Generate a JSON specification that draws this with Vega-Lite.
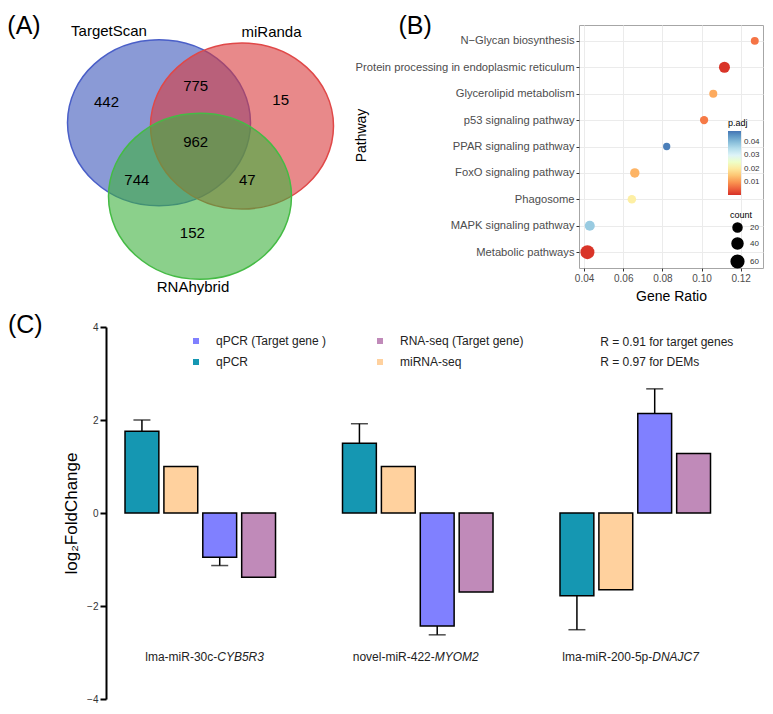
{
  "$schema": "https://vega.github.io/schema/vega-lite/v6.json",
  "background": "white",
  "padding": {"left": 7, "top": 13, "right": 0, "bottom": 0},
  "config": {"font": "Liberation Sans", "view": {"stroke": null}},
  "spacing": 9,
  "resolve": {"scale": {"color": "independent", "size": "independent", "x": "independent", "y": "independent"}, "legend": {"color": "independent", "size": "independent"}},
  "datasets": {
    "venn": [
      {"set": "TargetScan", "cx": 0.2275, "cy": 0.3556},
      {"set": "miRanda", "cx": 0.5837, "cy": 0.3673},
      {"set": "RNAhybrid", "cx": 0.4034, "cy": 0.6229}
    ],
    "vennLabels": [
      {"label": "442", "lx": 0.0021, "ly": 0.2789},
      {"label": "775", "lx": 0.385, "ly": 0.2218},
      {"label": "15", "lx": 0.7498, "ly": 0.2727},
      {"label": "962", "lx": 0.385, "ly": 0.4244},
      {"label": "744", "lx": 0.1322, "ly": 0.5636},
      {"label": "47", "lx": 0.6064, "ly": 0.5647},
      {"label": "152", "lx": 0.3704, "ly": 0.7575},
      {"label": "TargetScan", "lx": 0.0129, "ly": 0.0218},
      {"label": "miRanda", "lx": 0.7103, "ly": 0.0265},
      {"label": "RNAhybrid", "lx": 0.3734, "ly": 0.9516}
    ],
    "kegg": [
      {"pathway": "N−Glycan biosynthesis", "ratio": 0.1272, "padj": 0.007, "count": 11},
      {"pathway": "Protein processing in endoplasmic reticulum", "ratio": 0.1117, "padj": 0.0008, "count": 40},
      {"pathway": "Glycerolipid metabolism", "ratio": 0.106, "padj": 0.012, "count": 12},
      {"pathway": "p53 signaling pathway", "ratio": 0.1013, "padj": 0.0075, "count": 14},
      {"pathway": "PPAR signaling pathway", "ratio": 0.0822, "padj": 0.047, "count": 6},
      {"pathway": "FoxO signaling pathway", "ratio": 0.0659, "padj": 0.013, "count": 24},
      {"pathway": "Phagosome", "ratio": 0.0644, "padj": 0.021, "count": 16},
      {"pathway": "MAPK signaling pathway", "ratio": 0.0429, "padj": 0.038, "count": 30},
      {"pathway": "Metabolic pathways", "ratio": 0.0417, "padj": 0.0008, "count": 77}
    ],
    "fc": [
      {"group": "lma-miR-30c-CYB5R3", "series": "qPCR", "value": 1.76, "errEnd": 2.0},
      {"group": "lma-miR-30c-CYB5R3", "series": "miRNA-seq", "value": 1.0, "errEnd": null},
      {"group": "lma-miR-30c-CYB5R3", "series": "qPCR (Target gene )", "value": -0.95, "errEnd": -1.13},
      {"group": "lma-miR-30c-CYB5R3", "series": "RNA-seq (Target gene)", "value": -1.38, "errEnd": null},
      {"group": "novel-miR-422-MYOM2", "series": "qPCR", "value": 1.5, "errEnd": 1.92},
      {"group": "novel-miR-422-MYOM2", "series": "miRNA-seq", "value": 1.0, "errEnd": null},
      {"group": "novel-miR-422-MYOM2", "series": "qPCR (Target gene )", "value": -2.43, "errEnd": -2.62},
      {"group": "novel-miR-422-MYOM2", "series": "RNA-seq (Target gene)", "value": -1.7, "errEnd": null},
      {"group": "lma-miR-200-5p-DNAJC7", "series": "qPCR", "value": -1.78, "errEnd": -2.51},
      {"group": "lma-miR-200-5p-DNAJC7", "series": "miRNA-seq", "value": -1.65, "errEnd": null},
      {"group": "lma-miR-200-5p-DNAJC7", "series": "qPCR (Target gene )", "value": 2.14, "errEnd": 2.67},
      {"group": "lma-miR-200-5p-DNAJC7", "series": "RNA-seq (Target gene)", "value": 1.28, "errEnd": null}
    ],
    "groups": [
      {"group": "lma-miR-30c-CYB5R3", "prefix": "lma-miR-30c-", "gene": "CYB5R3"},
      {"group": "novel-miR-422-MYOM2", "prefix": "novel-miR-422-", "gene": "MYOM2"},
      {"group": "lma-miR-200-5p-DNAJC7", "prefix": "lma-miR-200-5p-", "gene": "DNAJC7"}
    ],
    "rtext": [
      {"label": "R = 0.91 for target genes", "y": 3.68},
      {"label": "R = 0.97 for DEMs", "y": 3.24}
    ]
  },
  "vconcat": [
    {
      "spacing": 14,
      "resolve": {"scale": {"color": "independent", "size": "independent", "x": "independent", "y": "independent"}, "legend": {"color": "independent", "size": "independent"}},
      "hconcat": [
        {
          "width": 233,
          "height": 275,
          "layer": [
            {
              "data": {"name": "venn"},
              "mark": {"type": "point", "shape": "M -1 0 A 1 0.907 0 1 1 1 0 A 1 0.907 0 1 1 -1 0 Z", "size": 33489, "filled": true, "fillOpacity": 0.6, "strokeOpacity": 1, "strokeWidth": 1.5},
              "encoding": {
                "x": {"field": "cx", "type": "quantitative", "scale": {"domain": [0, 1], "nice": false, "zero": false}, "axis": null},
                "y": {"field": "cy", "type": "quantitative", "scale": {"domain": [0, 1], "nice": false, "zero": false, "reverse": true}, "axis": null},
                "fill": {"field": "set", "type": "nominal", "scale": {"domain": ["TargetScan", "miRanda", "RNAhybrid"], "range": ["#3C57BB", "#D93A3C", "#3EB13E"]}, "legend": null},
                "stroke": {"field": "set", "type": "nominal", "scale": {"domain": ["TargetScan", "miRanda", "RNAhybrid"], "range": ["#4A5FC8", "#E04848", "#45BB45"]}, "legend": null}
              }
            },
            {
              "data": {"name": "vennLabels"},
              "mark": {"type": "text", "fontSize": 15, "color": "black", "baseline": "middle"},
              "encoding": {
                "x": {"field": "lx", "type": "quantitative"},
                "y": {"field": "ly", "type": "quantitative"},
                "text": {"field": "label"}
              }
            },
            {
              "data": {"values": [{"t": "(A)", "lx": -0.3519, "ly": 0.0036}]},
              "mark": {"type": "text", "fontSize": 25, "color": "black", "baseline": "middle"},
              "encoding": {
                "x": {"field": "lx", "type": "quantitative"},
                "y": {"field": "ly", "type": "quantitative"},
                "text": {"field": "t"}
              }
            }
          ]
        },
        {
          "width": 184,
          "height": 243,
          "view": {"stroke": "#A6A6A6"},
          "layer": [
            {
              "data": {"name": "kegg"},
              "mark": {"type": "circle", "opacity": 1},
              "encoding": {
                "x": {
                  "field": "ratio", "type": "quantitative",
                  "scale": {"domain": [0.0374, 0.1314], "nice": false, "zero": false},
                  "axis": {
                    "values": [0.04, 0.05, 0.06, 0.07, 0.08, 0.09, 0.1, 0.11, 0.12, 0.13],
                    "labelExpr": "round(datum.value*100) % 2 == 0 ? format(datum.value, '.2f') : ''",
                    "title": "Gene Ratio", "titleFontSize": 14, "titleFontWeight": "normal", "titleColor": "black", "titlePadding": 6,
                    "labelColor": "#4D4D4D", "labelFontSize": 10, "labelPadding": 2,
                    "domain": false, "tickSize": 3, "tickColor": "#333333",
                    "tickOpacity": {"condition": {"test": "round(datum.value*100) % 2 == 1", "value": 0}, "value": 1},
                    "grid": true, "gridColor": "#EBEBEB",
                    "gridWidth": {"condition": {"test": "round(datum.value*100) % 2 == 1", "value": 0.5}, "value": 1}
                  }
                },
                "y": {
                  "field": "pathway", "type": "nominal",
                  "scale": {"type": "point", "padding": 0.6, "domain": ["N−Glycan biosynthesis", "Protein processing in endoplasmic reticulum", "Glycerolipid metabolism", "p53 signaling pathway", "PPAR signaling pathway", "FoxO signaling pathway", "Phagosome", "MAPK signaling pathway", "Metabolic pathways"]},
                  "axis": {
                    "title": "Pathway", "titleFontSize": 14, "titleFontWeight": "normal", "titleColor": "black", "titleX": -211, "titleY": 110,
                    "labelFontSize": 11.2, "labelColor": "#4D4D4D", "labelPadding": 2, "labelLimit": 400,
                    "domain": false, "tickSize": 3, "tickColor": "#333333",
                    "grid": true, "gridColor": "#EBEBEB"
                  }
                },
                "color": {
                  "field": "padj", "type": "quantitative",
                  "scale": {"domain": [0.0005, 0.048], "range": ["#d73027", "#f46d43", "#fdae61", "#fee090", "#ffffbf", "#e0f3f8", "#abd9e9", "#74add1", "#4575b4"]},
                  "legend": {"title": "p.adj", "orient": "none", "legendX": 149, "legendY": 94, "direction": "vertical", "gradientLength": 64, "gradientThickness": 13, "values": [0.01, 0.02, 0.03, 0.04], "labelFontSize": 8, "labelColor": "#333333", "titleFontSize": 9, "titleFontWeight": "normal", "titleColor": "black", "titlePadding": 3, "labelOffset": 3, "padding": 0}
                },
                "size": {
                  "field": "count", "type": "quantitative",
                  "scale": {"domain": [0, 80], "range": [41, 201], "zero": false},
                  "legend": {"title": "count", "orient": "none", "legendX": 151, "legendY": 186, "values": [20, 40, 60], "symbolFillColor": "black", "symbolStrokeColor": "black", "symbolOpacity": 1, "labelFontSize": 8, "labelColor": "#333333", "labelOffset": 5, "titleFontSize": 9, "titleFontWeight": "normal", "titleColor": "black", "titlePadding": 2, "rowPadding": 0, "padding": 0}
                }
              }
            },
            {
              "data": {"values": [{"t": "(B)"}]},
              "mark": {"type": "text", "fontSize": 25, "color": "black", "baseline": "middle", "dy": -15},
              "encoding": {
                "x": {"datum": -0.0463, "type": "quantitative"},
                "y": {"datum": "N−Glycan biosynthesis", "type": "nominal"},
                "text": {"field": "t"}
              }
            }
          ]
        }
      ]
    },
    {
      "width": 644,
      "height": 372,
      "layer": [
        {
          "data": {"name": "fc"},
          "mark": {"type": "bar", "stroke": "black", "strokeWidth": 1.5},
          "encoding": {
            "x": {"field": "group", "type": "nominal", "scale": {"domain": ["lma-miR-30c-CYB5R3", "novel-miR-422-MYOM2", "lma-miR-200-5p-DNAJC7"], "paddingInner": 0.308, "paddingOuter": 0.1345, "align": 0.325}, "axis": null},
            "xOffset": {"field": "series", "type": "nominal", "scale": {"domain": ["qPCR", "miRNA-seq", "qPCR (Target gene )", "RNA-seq (Target gene)"], "paddingInner": 0.13, "paddingOuter": 0}},
            "y": {
              "field": "value", "type": "quantitative",
              "scale": {"domain": [-4, 4], "nice": false},
              "axis": {"values": [-4, -2, 0, 2, 4], "grid": false, "domainColor": "black", "domainWidth": 2, "tickColor": "black", "tickWidth": 2, "tickSize": 6, "labelFontSize": 10, "labelColor": "#333333", "labelPadding": 2, "title": "log₂FoldChange", "titleFontSize": 17, "titleFontWeight": "normal", "titleColor": "black", "titlePadding": 6}
            },
            "color": {
              "field": "series", "type": "nominal",
              "scale": {"domain": ["qPCR (Target gene )", "qPCR", "RNA-seq (Target gene)", "miRNA-seq"], "range": ["#8080FF", "#1597B2", "#C08AB9", "#FFD19E"]},
              "legend": {"title": null, "orient": "none", "legendX": 84, "legendY": 8, "columns": 2, "symbolType": "square", "symbolSize": 36, "symbolStrokeWidth": 0, "symbolStrokeColor": "transparent", "labelFontSize": 12, "labelColor": "#222222", "labelOffset": 14, "columnPadding": 47, "rowPadding": 9, "padding": 0}
            }
          }
        },
        {
          "data": {"name": "fc"},
          "transform": [{"filter": "isValid(datum.errEnd)"}],
          "mark": {"type": "rule", "color": "black", "strokeWidth": 1.5},
          "encoding": {
            "x": {"field": "group", "type": "nominal"},
            "xOffset": {"field": "series", "type": "nominal"},
            "y": {"field": "value", "type": "quantitative"},
            "y2": {"field": "errEnd"}
          }
        },
        {
          "data": {"name": "fc"},
          "transform": [{"filter": "isValid(datum.errEnd)"}],
          "mark": {"type": "tick", "color": "black", "thickness": 1.5, "size": 17, "orient": "horizontal"},
          "encoding": {
            "x": {"field": "group", "type": "nominal"},
            "xOffset": {"field": "series", "type": "nominal"},
            "y": {"field": "errEnd", "type": "quantitative"}
          }
        },
        {
          "mark": {"type": "rule", "color": "black", "strokeWidth": 2.5},
          "encoding": {"y": {"datum": 0, "type": "quantitative"}}
        },
        {
          "data": {"name": "groups"},
          "mark": {"type": "text", "align": "right", "baseline": "middle", "dx": 17, "fontSize": 12, "color": "#222222"},
          "encoding": {
            "x": {"field": "group", "type": "nominal"},
            "y": {"datum": -3.09, "type": "quantitative"},
            "text": {"field": "prefix"}
          }
        },
        {
          "data": {"name": "groups"},
          "mark": {"type": "text", "align": "left", "baseline": "middle", "dx": 17, "fontSize": 12, "fontStyle": "italic", "color": "#222222"},
          "encoding": {
            "x": {"field": "group", "type": "nominal"},
            "y": {"datum": -3.09, "type": "quantitative"},
            "text": {"field": "gene"}
          }
        },
        {
          "data": {"name": "rtext"},
          "mark": {"type": "text", "align": "left", "baseline": "middle", "dx": -35, "fontSize": 12, "color": "#222222"},
          "encoding": {
            "x": {"datum": "lma-miR-200-5p-DNAJC7", "type": "nominal"},
            "y": {"field": "y", "type": "quantitative"},
            "text": {"field": "label"}
          }
        },
        {
          "data": {"values": [{"t": "(C)"}]},
          "mark": {"type": "text", "align": "center", "baseline": "middle", "dx": -175, "dy": -2, "fontSize": 25, "color": "black"},
          "encoding": {
            "x": {"datum": "lma-miR-30c-CYB5R3", "type": "nominal"},
            "y": {"datum": 4, "type": "quantitative"},
            "text": {"field": "t"}
          }
        }
      ]
    }
  ]
}
